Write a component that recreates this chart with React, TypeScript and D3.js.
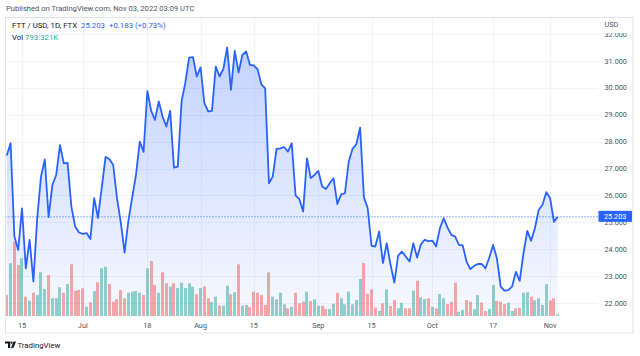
import React from 'react';
import * as d3 from 'd3';

// ---------- data ----------
const firstDay = new Date(2022, 5, 11);

const closes = [
  27.48, 27.94, 24.47, 23.97, 25.52, 23.29, 24.35, 22.8, 25.15, 26.7,
  27.34, 25.19, 26.39, 26.76, 27.87, 27.19, 27.21, 25.58, 24.84, 24.62,
  24.57, 24.6, 24.38, 25.9, 25.16, 26.3, 27.43, 27.35, 27.13, 25.9,
  25.0, 23.87, 25.05, 25.92, 26.76, 28.0, 27.62, 29.88, 29.14, 28.81,
  29.49, 28.93, 28.56, 29.14, 27.03, 27.07, 29.49, 30.2, 31.12, 31.14,
  30.42, 30.76, 29.43, 29.12, 29.14, 30.79, 30.42, 30.7, 31.5, 29.92,
  31.37, 30.57, 31.22, 31.35, 30.85, 30.83, 30.69, 30.13, 29.98, 26.45,
  26.7, 27.73, 27.75, 27.8, 27.63, 27.94, 26.0, 25.86, 25.4, 27.38,
  26.64, 26.76, 26.91, 26.33, 26.24, 26.45, 26.64, 25.68, 26.04, 26.08,
  27.26, 27.73, 27.9, 28.52, 25.92, 25.52, 24.12, 24.1, 24.66, 23.48,
  24.22, 23.42, 22.76, 23.76, 23.91, 23.73, 23.54, 24.22, 23.69, 24.18,
  24.35, 24.3, 24.32, 24.1, 24.78, 25.15, 24.8, 24.53, 24.47, 24.16,
  24.14, 23.54, 23.26, 23.38, 23.45, 23.45, 23.29, 23.69, 24.16, 23.65,
  22.61, 22.46, 22.48, 22.61, 23.16, 22.82, 23.85, 24.68, 24.31, 24.78,
  25.46, 25.65, 26.12, 25.9, 25.02, 25.203,
];

// volume in millions
const volumes = [
  9.55, 23.95, 33.77, 23.18, 26.23, 8.77, 6.95, 10.59, 9.55, 19.86,
  12.27, 18.64, 8.05, 8.1, 13.05, 10.59, 14.55, 23.5, 11.5, 11.82,
  12.59, 4.23, 6.23, 11.36, 15.32, 21.68, 22.41, 14.55, 6.5, 7.59,
  11.82, 8.05, 10.59, 11.05, 11.36, 10.59, 9.55, 21.68, 25.0, 14.09,
  10.59, 19.86, 14.86, 13.32, 14.86, 12.73, 15.14, 12.73, 14.86, 13.32,
  9.9, 12.73, 13.4, 8.05, 6.36, 8.77, 4.82, 4.68, 13.77, 9.86,
  10.77, 23.5, 4.68, 5.0, 4.09, 11.05, 10.59, 9.55, 5.0, 19.86,
  8.77, 7.59, 10.59, 5.32, 3.5, 4.23, 10.59, 5.77, 6.5, 11.05,
  6.82, 7.59, 4.68, 4.68, 3.18, 3.18, 5.59, 10.59, 8.05, 5.32,
  11.05, 5.32, 7.27, 16.82, 24.09, 10.14, 12.14, 3.77, 2.27, 5.77,
  12.14, 4.55, 7.27, 3.5, 6.05, 3.5, 3.5, 11.5, 16.05, 8.5,
  7.73, 8.05, 4.23, 3.5, 10.0, 8.05, 5.45, 6.5, 15.14, 1.95,
  2.73, 7.27, 6.5, 3.1, 9.55, 6.14, 2.27, 3.18, 14.09, 6.86,
  6.5, 5.45, 6.05, 2.27, 3.5, 3.64, 10.59, 10.77, 8.77, 7.18,
  8.05, 5.0, 14.45, 7.09, 8.05, 0.793,
];

// candle direction per day: R = down (red), T = up (teal)
const volumeDirection = (
  'RTRRTRTRTT' + 'TRTTTRTRRR' + 'RTRTRTTRRR' + 'RRTTTTRTRR' + 'TRRTRTTTTT' +
  'RTRRTTRTTR' + 'TRTTRRRRRR' + 'TTTTRTRRRT' + 'RTTRRTTRTT' + 'TTTTRRRRTR' +
  'TRRTTRRTRT' + 'TRTRTTRRRT' + 'TRRTTRRTTR' + 'RRTTRRTTRT' + 'TTTRRT'
).split('');

const priceTicks = [22, 23, 24, 25, 26, 27, 28, 29, 30, 31, 32];
const timeTickDates = [
  new Date(2022, 5, 15), new Date(2022, 6, 1), new Date(2022, 6, 18), new Date(2022, 7, 1),
  new Date(2022, 7, 15), new Date(2022, 8, 1), new Date(2022, 8, 15), new Date(2022, 9, 1),
  new Date(2022, 9, 17), new Date(2022, 10, 1),
];
const timeTickLabels = ['15', 'Jul', '18', 'Aug', '15', 'Sep', '15', 'Oct', '17', 'Nov'];

const lastPrice = 25.203;
const headerText = 'Published on TradingView.com, Nov 03, 2022 03:09 UTC';
const symbolText = 'FTT / USD, 1D, FTX';
const changeText = '+0.183 (+0.73%)';
const volText = '793.321K';

// ---------- layout ----------
const W = 640;
const H = 356;
const pane = { left: 5.5, right: 598, top: 17, bottom: 316 };
const FONT = "Roboto, 'Liberation Sans', Arial, sans-serif";
const BLUE = '#2962ff';

export default function App() {
  const dates = closes.map((_, i) => d3.timeDay.offset(firstDay, i));
  const data = closes.map((c, i) => ({ date: dates[i], close: c, vol: volumes[i], dir: volumeDirection[i] }));

  const x = d3.scaleTime().domain([dates[0], dates[dates.length - 1]]).range([6.8, 557.7]);
  const y = d3.scaleLinear().domain([22, 32]).range([303, 34]);
  const yVol = d3.scaleLinear().domain([0, 36]).range([pane.bottom, pane.bottom - 79.2]);

  const line = d3.line<any>().x(d => x(d.date)).y(d => y(d.close));
  const area = d3.area<any>().x(d => x(d.date)).y0(pane.bottom).y1(d => y(d.close));
  const fmt = d3.format('.3f');
  const yLast = y(lastPrice);

  return (
    <svg width={W} height={H} viewBox={`0 0 ${W} ${H}`}
      style={{ position: 'absolute', left: 0, top: 0, background: '#fff', fontFamily: FONT }}>
      <defs>
        <clipPath id="paneClip">
          <rect x={pane.left} y={pane.top} width={pane.right - pane.left} height={pane.bottom - pane.top} />
        </clipPath>
        <clipPath id="axisClip">
          <rect x={pane.right} y={33} width={40} height={300} />
        </clipPath>
        <linearGradient id="areaGrad" gradientUnits="userSpaceOnUse" x1="0" y1={y(31.5)} x2="0" y2={pane.bottom}>
          <stop offset="0%" stopColor={BLUE} stopOpacity={0.28} />
          <stop offset="100%" stopColor={BLUE} stopOpacity={0.04} />
        </linearGradient>
      </defs>
      <rect x={0} y={0} width={W} height={H} fill="#fff" />

      {/* header */}
      <text x={6} y={11} fontSize={7.6} fill="#50535e">{headerText}</text>

      {/* grid */}
      <g clipPath="url(#paneClip)">
        {priceTicks.map(t => (
          <line key={'h' + t} x1={pane.left} x2={pane.right} y1={Math.round(y(t)) + 0.5} y2={Math.round(y(t)) + 0.5}
            stroke="#f0f3fa" strokeWidth={1} />
        ))}
        {timeTickDates.map((d, i) => (
          <line key={'v' + i} x1={Math.round(x(d)) + 0.5} x2={Math.round(x(d)) + 0.5} y1={pane.top} y2={pane.bottom}
            stroke="#f0f3fa" strokeWidth={1} />
        ))}
        {/* area + line */}
        <path d={area(data) || ''} fill="url(#areaGrad)" />
        {/* volume */}
        {data.map((d, i) => {
          const h = pane.bottom - yVol(d.vol);
          return (
            <rect key={'b' + i} x={Math.round(x(d.date) - 1.5)} y={yVol(d.vol)} width={3} height={h}
              fill={d.dir === 'T' ? '#26a69a' : '#ef5350'} fillOpacity={0.5} />
          );
        })}
        <path d={line(data) || ''} fill="none" stroke={BLUE} strokeWidth={1.8} strokeLinejoin="round" />
        {/* last price dotted line */}
        <line x1={pane.left} x2={pane.right} y1={yLast} y2={yLast} stroke={BLUE} strokeWidth={1}
          strokeDasharray="1 2" />
      </g>

      {/* legend */}
      <text x={12} y={27.5} fontSize={7.8} fill="#131722">{symbolText}</text>
      <text x={81} y={27.5} fontSize={7.8} fill={BLUE}>{fmt(lastPrice)}</text>
      <text x={109} y={27.5} fontSize={7.8} fill={BLUE}>{changeText}</text>
      <text x={12} y={39.5} fontSize={7.8} fill="#131722">Vol</text>
      <text x={25} y={39.5} fontSize={7.8} fill="#22ab94">{volText}</text>

      {/* price axis */}
      <text x={604.5} y={27} fontSize={7.3} fill="#50535e">USD</text>
      <g clipPath="url(#axisClip)">
        {priceTicks.map(t => (
          <text key={'pt' + t} x={604.5} y={y(t) + 2.6} fontSize={7.3} fill="#50535e">{fmt(t)}</text>
        ))}
      </g>
      <rect x={598.5} y={yLast - 6} width={33.5} height={11} fill={BLUE} />
      <text x={615.2} y={yLast + 2.6} fontSize={7.3} fill="#fff" textAnchor="middle">{fmt(lastPrice)}</text>

      {/* time axis */}
      {timeTickDates.map((d, i) => (
        <text key={'tt' + i} x={x(d)} y={327.5} fontSize={7.3} fill="#50535e" textAnchor="middle">{timeTickLabels[i]}</text>
      ))}

      {/* frame */}
      <rect x={5.5} y={17.5} width={627.5} height={315.5} fill="none" stroke="#e0e3eb" strokeWidth={1} />

      {/* logo */}
      <g fill="#131722">
        <path d="M5 341.5 h5.2 v6.5 h-2.2 v-4.4 h-3z" />
        <circle cx={11.6} cy={342.7} r={1.1} />
        <path d="M13.6 341.5 h2.4 l-2.6 6.5 h-2.4z" />
      </g>
      <text x={17.5} y={348} fontSize={7.8} fill="#131722">TradingView</text>
    </svg>
  );
}
